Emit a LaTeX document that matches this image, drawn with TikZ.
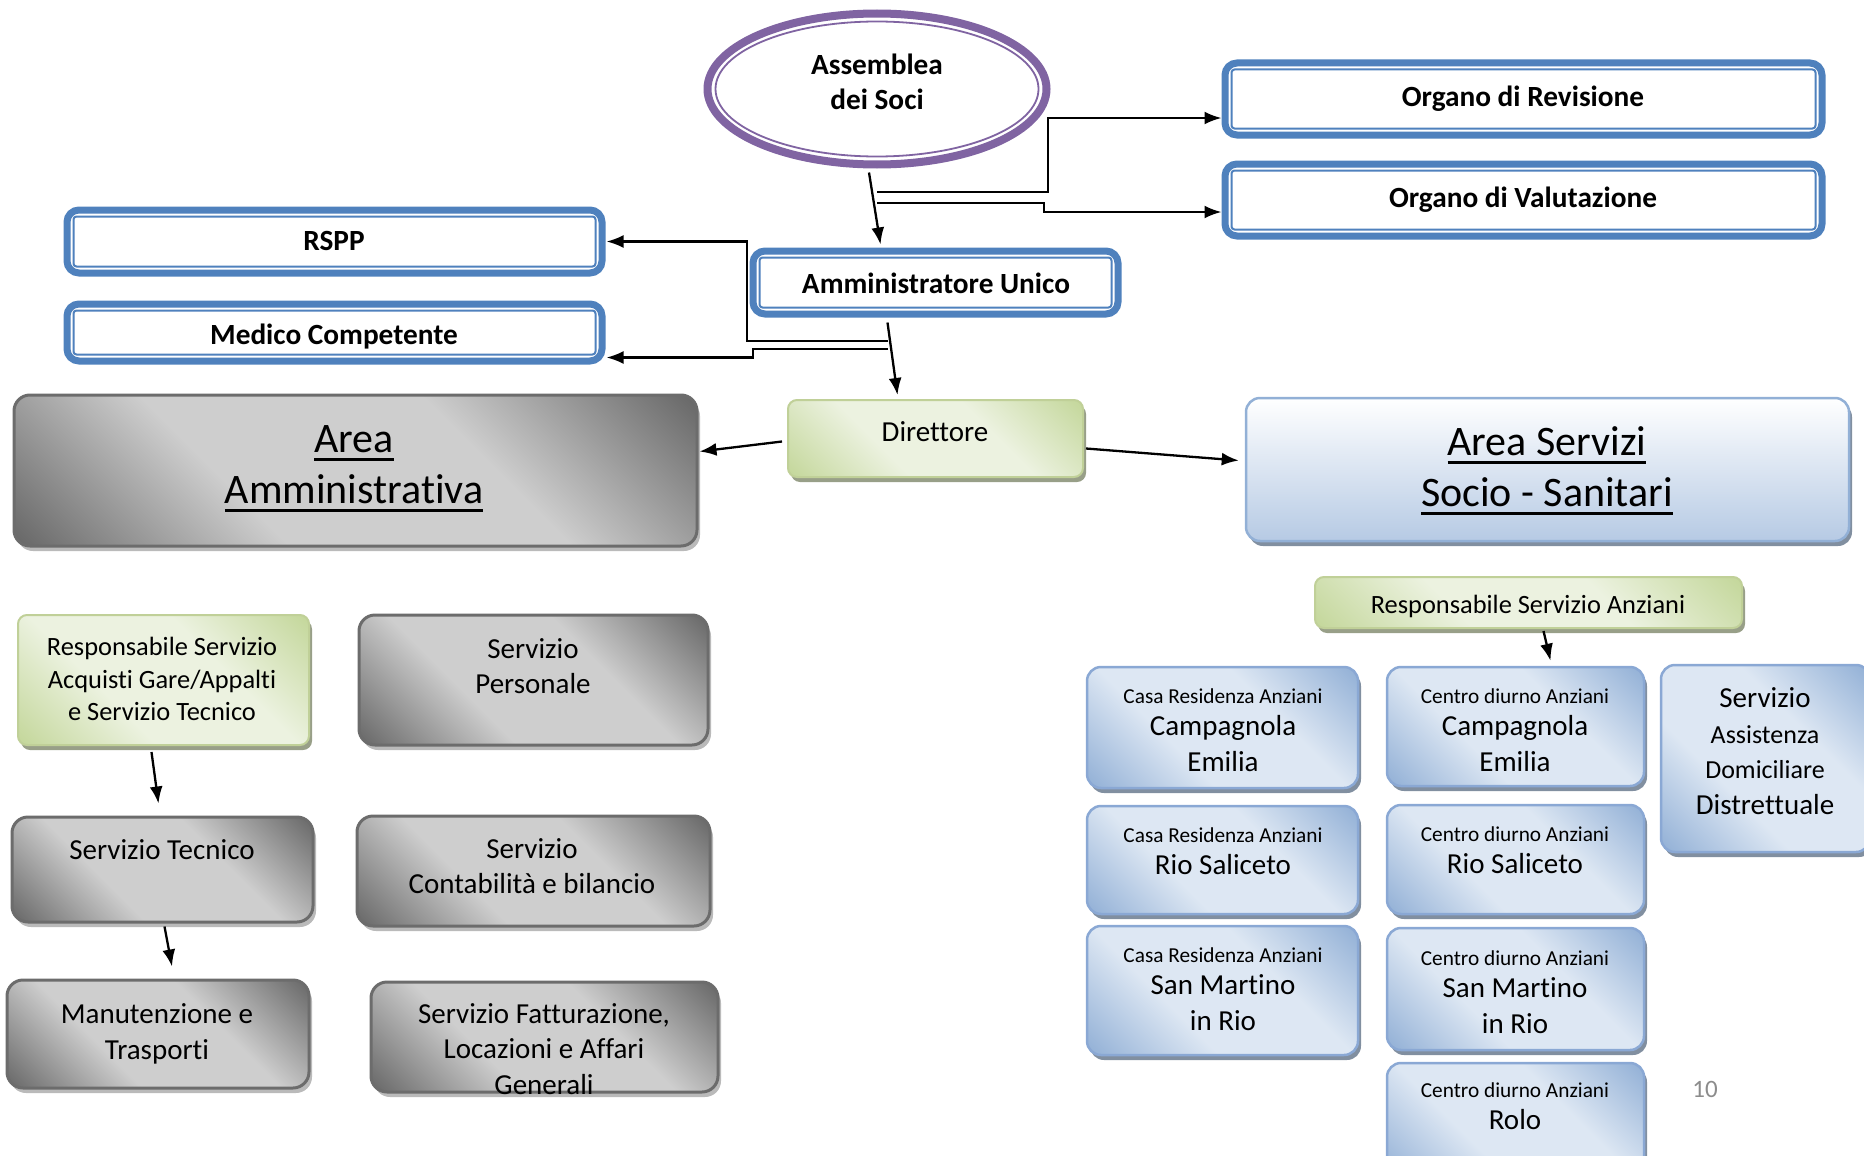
\documentclass[tikz,border=0pt]{standalone}
\usepackage{fontspec}
\setmainfont{Carlito}[Ligatures=CommonOff]
\usetikzlibrary{arrows.meta,calc,fit,shadows,shapes.geometric}

\definecolor{dblue}{RGB}{79,129,189}
\definecolor{epurple}{RGB}{128,100,162}
\definecolor{gdk}{RGB}{104,104,104}
\definecolor{glt}{RGB}{206,206,206}
\definecolor{gline}{RGB}{108,108,108}
\definecolor{vdk}{RGB}{196,215,155}
\definecolor{vlt}{RGB}{236,242,224}
\definecolor{vline}{RGB}{192,208,152}
\definecolor{bdk}{RGB}{146,176,214}
\definecolor{blt}{RGB}{221,231,243}
\definecolor{bline}{RGB}{138,168,212}
\definecolor{asb}{RGB}{182,202,228}

\pgfdeclareverticalshading{grayfx}{100bp}{color(0bp)=(gdk); color(15bp)=(gdk); color(38bp)=(glt); color(62bp)=(glt); color(85bp)=(gdk); color(100bp)=(gdk)}
\pgfdeclareverticalshading{greenfx}{100bp}{color(0bp)=(vdk); color(15bp)=(vdk); color(38bp)=(vlt); color(62bp)=(vlt); color(85bp)=(vdk); color(100bp)=(vdk)}
\pgfdeclareverticalshading{bluefx}{100bp}{color(0bp)=(bdk); color(15bp)=(bdk); color(38bp)=(blt); color(62bp)=(blt); color(85bp)=(bdk); color(100bp)=(bdk)}

\def\fbig{\fontsize{42}{51}\selectfont}
\def\fmid{\fontsize{29}{35.5}\selectfont}
\def\fvg{\fontsize{26.4}{32.2}\selectfont}
\def\fsm{\fontsize{21.3}{26}\selectfont}
\def\fsa{\fontsize{26}{32}\selectfont}
\def\fbd{\fontsize{29.3}{34.5}\selectfont\bfseries}
\def\ulbox#1{\setbox0\hbox{#1}\rlap{\rule[-8pt]{\wd0}{3pt}}\box0}

\tikzset{
  txt/.style={align=center, inner sep=0pt},
  arr/.style={line width=2.3pt, -{Latex[length=17pt,width=13pt]}},
  dbox/.style={draw=dblue, line width=7pt, fill=white, rounded corners=12pt, inner sep=0pt,
    path picture={\draw[dblue, line width=2pt, rounded corners=3pt]
      ([shift={(6.5pt,6.5pt)}]path picture bounding box.south west) rectangle
      ([shift={(-6.5pt,-6.5pt)}]path picture bounding box.north east);}},
  ebox/.style={ellipse, draw=epurple, line width=8pt, fill=white, inner sep=0pt,
    minimum width=339pt, minimum height=151pt,
    path picture={\draw[epurple, line width=1.8pt] (path picture bounding box.center)
      ellipse [x radius=161.5pt, y radius=67.5pt];}},
  gbox/.style={shade, shading=grayfx, shading angle=-45, draw=gline, line width=3pt,
    rounded corners=16pt, inner sep=0pt,
    drop shadow={shadow xshift=3pt, shadow yshift=-5pt, fill=black!27, opacity=1}},
  vbox/.style={shade, shading=greenfx, shading angle=-45, draw=vline, line width=2pt,
    rounded corners=9pt, inner sep=0pt,
    drop shadow={shadow xshift=3pt, shadow yshift=-5pt, fill=vdk!55!black!70, opacity=1}},
  bbox/.style={shade, shading=bluefx, shading angle=-45, draw=bline, line width=2.5pt,
    rounded corners=14pt, inner sep=0pt,
    drop shadow={shadow xshift=3pt, shadow yshift=-5pt, fill=bdk!60!black!75, opacity=1}},
  abox/.style={top color=white, bottom color=asb, draw=bdk, line width=2.5pt,
    rounded corners=14pt, inner sep=0pt,
    drop shadow={shadow xshift=3pt, shadow yshift=-5pt, fill=bdk!60!black!75, opacity=1}}
}

\begin{document}
\begin{tikzpicture}[x=1pt,y=-1pt]
  %%%%% START %%%%%
  \useasboundingbox (0,0) rectangle (1864,1156);
  \clip (0,0) rectangle (1864,1156);

  % organi di vertice
  \node[ebox] (asm) at (877,89) {};
  \node[txt, font=\fbd] (asm-t) at (877,82) {Assemblea\\dei Soci};

  \node[dbox, fit={(1225,63) (1822,135)}] (rev) {};
  \node[txt, font=\fbd] (rev-t) at (1523,99) {Organo di Revisione};
  \node[dbox, fit={(1225,164) (1822,236)}] (val) {};
  \node[txt, font=\fbd] (val-t) at (1523,200) {Organo di Valutazione};

  \node[dbox, fit={(67,210) (602,273)}] (rspp) {};
  \node[txt, font=\fbd] (rspp-t) at (334,241) {RSPP};
  \node[dbox, fit={(67,304) (602,361)}] (med) {};
  \node[txt, font=\fbd] (med-t) at (334,337) {Medico Competente};

  \node[dbox, fit={(753,251) (1118,314)}] (amm) {};
  \node[txt, font=\fbd] (amm-t) at (936,283) {Amministratore Unico};

  \node[vbox, fit={(788,400) (1083,477)}] (dir) {};
  \node[txt, font=\fmid] (dir-t) at (935,432) {Direttore};

  % aree
  \node[gbox, fit={(14,395) (697,546)}] (aa) {};
  \node[txt, font=\fbig] (aa-t) at (354,469) {\ulbox{Area}\\\ulbox{Amministrativa}};
  \node[abox, fit={(1246,398) (1849,541)}] (as) {};
  \node[txt, font=\fbig] (as-t) at (1547,471) {\ulbox{Area Servizi}\\\ulbox{Socio - Sanitari}};

  % area amministrativa
  \node[vbox, fit={(18,615) (309,745)}] (acq) {};
  \node[txt, font=\fvg] (acq-t) at (162,679) {Responsabile Servizio\\Acquisti Gare/Appalti\\e Servizio Tecnico};
  \node[gbox, fit={(359,615) (708,745)}] (per) {};
  \node[txt, font=\fmid] (per-t) at (533,666) {Servizio\\Personale};
  \node[gbox, fit={(12,817) (313,922)}] (tec) {};
  \node[txt, font=\fmid] (tec-t) at (162,850) {Servizio Tecnico};
  \node[gbox, fit={(357,816) (710,926)}] (con) {};
  \node[txt, font=\fmid] (con-t) at (532,866) {Servizio\\Contabilità e bilancio};
  \node[gbox, fit={(7,980) (309,1088)}] (man) {};
  \node[txt, font=\fmid] (man-t) at (157,1034) {Manutenzione e\\Trasporti};
  \node[gbox, fit={(371,982) (718,1092)}] (fat) {};
  \node[txt, font=\fmid] (fat-t) at (544,1049) {Servizio Fatturazione,\\Locazioni e Affari\\Generali};

  % area servizi socio-sanitari
  \node[vbox, fit={(1315,577) (1742,628)}] (anz) {};
  \node[txt, font=\fvg] (anz-t) at (1528,606) {Responsabile Servizio Anziani};

  \node[bbox, fit={(1087,667) (1358,788)}] (cra1) {};
  \node[txt, font=\fmid] (cra1-t) at (1223,730) {{\fsm Casa Residenza Anziani}\\[-3pt]Campagnola\\Emilia};
  \node[bbox, fit={(1087,806) (1358,914)}] (cra2) {};
  \node[txt, font=\fmid] (cra2-t) at (1223,851) {{\fsm Casa Residenza Anziani}\\[-3pt]Rio Saliceto};
  \node[bbox, fit={(1087,926) (1358,1055)}] (cra3) {};
  \node[txt, font=\fmid] (cra3-t) at (1223,989) {{\fsm Casa Residenza Anziani}\\[-3pt]San Martino\\in Rio};

  \node[bbox, fit={(1387,667) (1644,786)}] (cda1) {};
  \node[txt, font=\fmid] (cda1-t) at (1515,730) {{\fsm Centro diurno Anziani}\\[-3pt]Campagnola\\Emilia};
  \node[bbox, fit={(1387,805) (1644,914)}] (cda2) {};
  \node[txt, font=\fmid] (cda2-t) at (1515,850) {{\fsm Centro diurno Anziani}\\[-3pt]Rio Saliceto};
  \node[bbox, fit={(1387,928) (1644,1050)}] (cda3) {};
  \node[txt, font=\fmid] (cda3-t) at (1515,992) {{\fsm Centro diurno Anziani}\\[-3pt]San Martino\\in Rio};
  \node[bbox, fit={(1387,1063) (1644,1180)}] (cda4) {};
  \node[txt, font=\fmid] (cda4-t) at (1515,1106) {{\fsm Centro diurno Anziani}\\[-3pt]Rolo};

  \node[bbox, fit={(1661,665) (1870,852)}] (sad) {};
  \node[txt, font=\fmid] (sad-t) at (1765,751) {Servizio\\{\fsa Assistenza}\\{\fsa Domiciliare}\\Distrettuale};

  \node[txt, font=\fontsize{25}{30}\selectfont, text=black!45] (pg) at (1705,1089) {10};

  % collegamenti
  \coordinate (j1) at (877,192);
  \coordinate (j2) at (877,203);
  \coordinate (j3) at (888,341);
  \coordinate (j4) at (888,349);

  \draw[arr] ($(asm.south)+(-8,4)$) -- ($(amm.north)+(-55,-3)$);
  \draw[arr] (j1) -- ++(171,0) |- ($(rev.west)+(0,19)$);
  \draw[arr] (j2) -- ++(167,0) |- ($(val.west)+(0,12)$);
  \draw[arr] ($(amm.south)+(-48,5)$) -- ($(dir.north)+(-38,-4)$);
  \draw[arr] (j3) -- ++(-141,0) |- ($(rspp.east)+(1,0)$);
  \draw[arr] (j4) -- ++(-135,0) |- ($(med.east)+(1,25)$);
  \draw[arr] ($(dir.west)+(-5,3)$) -- ($(aa.east)+(1,-19)$);
  \draw[arr] ($(dir.east)+(2,10)$) -- ($(as.west)+(-6,-9)$);
  \draw[arr] ($(acq.south)+(-12,6)$) -- ($(tec.north)+(-4,-12)$);
  \draw[arr] ($(tec.south)+(2,3)$) -- ($(man.north)+(14,-12)$);
  \draw[arr] ($(anz.south)+(15,2)$) -- ($(cda1.north)+(35,-5)$);
  %%%%% END %%%%%
\end{tikzpicture}
\end{document}
